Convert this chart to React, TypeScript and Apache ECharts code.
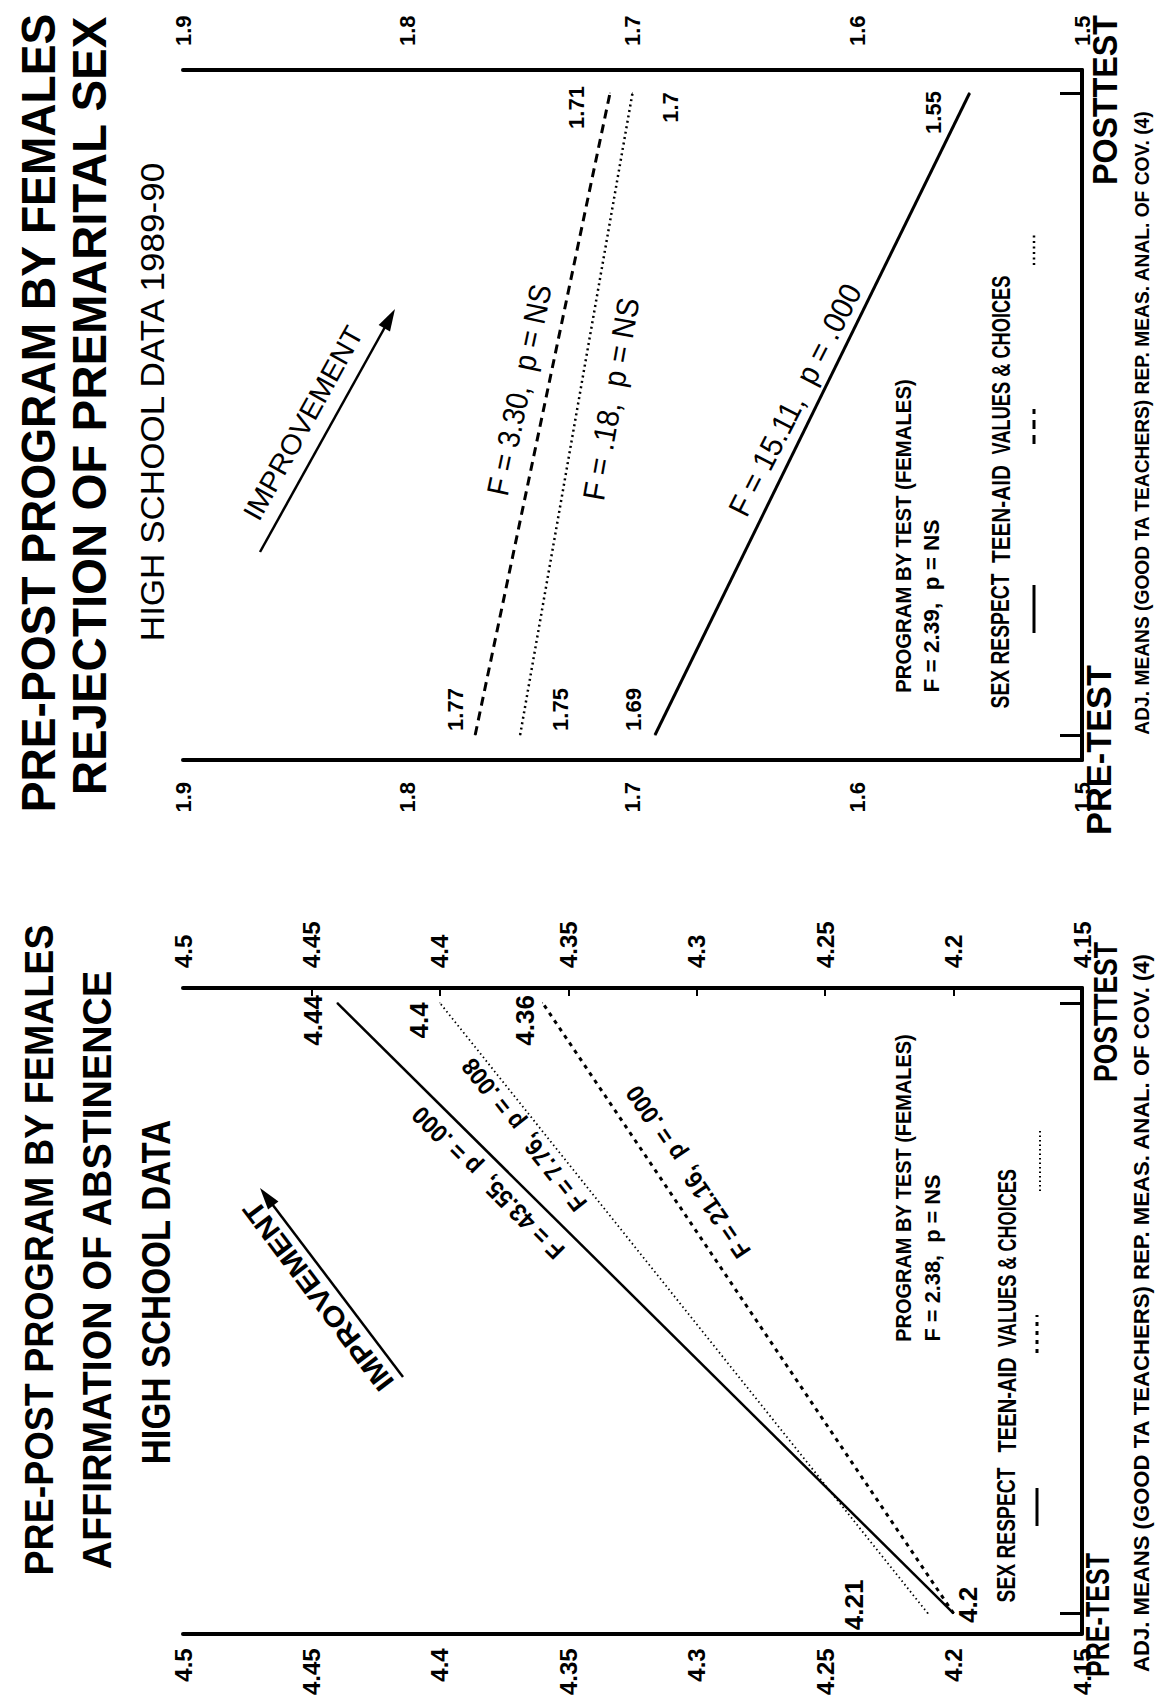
import React, { useEffect, useRef } from "react";
import * as echarts from "echarts";

// ---------------- data ----------------
const testPoints = ["PRE-TEST", "POSTTEST"];
const programs = ["SEX RESPECT", "TEEN-AID", "VALUES & CHOICES"];
const programHeading = "PROGRAM BY TEST (FEMALES)";
const footnote = "ADJ. MEANS (GOOD TA TEACHERS) REP. MEAS. ANAL. OF COV. (4)";
const improvementText = "IMPROVEMENT";

// Panel A (top of page): Rejection of premarital sex
const rejTitle = ["PRE-POST PROGRAM BY FEMALES", "REJECTION OF PREMARITAL SEX", "HIGH SCHOOL DATA 1989-90"];
const rejTicks = [1.5, 1.6, 1.7, 1.8, 1.9];
const rejSexRespect = [1.69, 1.55];
const rejTeenAid = [1.77, 1.71];
const rejValuesChoices = [1.75, 1.7];
const rejStats = ["F = 15.11,  p = .000", "F = 3.30,  p = NS", "F = .18,  p = NS"];
const rejProgramByTest = "F = 2.39,  p = NS";

// Panel B (bottom of page): Affirmation of abstinence
const affTitle = ["PRE-POST PROGRAM BY FEMALES", "AFFIRMATION OF ABSTINENCE", "HIGH SCHOOL DATA"];
const affTicks = [4.15, 4.2, 4.25, 4.3, 4.35, 4.4, 4.45, 4.5];
const affSexRespect = [4.2, 4.44];
const affTeenAid = [4.2, 4.36];
const affValuesChoices = [4.21, 4.4];
const affStats = ["F = 43.55,  p = .000", "F = 21.16,  p = .000", "F = 7.76,  p = .008"];
const affProgramByTest = "F = 2.38,  p = NS";

// ---------------- styling helpers ----------------
const INK = "#000";
const FAMILY = '"Liberation Sans", Arial, Helvetica, sans-serif';

let measureCtx: CanvasRenderingContext2D | null = null;
function measure(text: string, weight: string, size: number): number {
  if (!measureCtx) measureCtx = document.createElement("canvas").getContext("2d");
  if (!measureCtx) return text.length * size * 0.6;
  measureCtx.font = `${weight} ${size}px ${FAMILY}`;
  return measureCtx.measureText(text).width;
}

// rotated text, centred on (cx, cy); angle in degrees (anticlockwise); len = target length along text
function rText(text: string, cx: number, cy: number, size: number, angle: number, len?: number, weight = "bold") {
  const w = measure(text, weight, size);
  const sx = len ? len / w : 1;
  return {
    type: "text",
    x: cx,
    y: cy,
    rotation: (angle * Math.PI) / 180,
    scaleX: sx,
    silent: true,
    z: 10,
    style: {
      text,
      fill: INK,
      fontSize: size,
      fontWeight: weight,
      fontFamily: FAMILY,
      align: "center",
      verticalAlign: "middle",
      textAlign: "center",
      textVerticalAlign: "middle",
    },
  };
}

function seg(x1: number, y1: number, x2: number, y2: number, width: number, dash?: number[]) {
  return {
    type: "line",
    silent: true,
    z: 10,
    shape: { x1, y1, x2, y2 },
    style: { stroke: INK, lineWidth: width, lineDash: dash || null, lineCap: "butt" },
  };
}

function arrow(x1: number, y1: number, x2: number, y2: number) {
  const dx = x2 - x1;
  const dy = y2 - y1;
  const L = Math.hypot(dx, dy);
  const ux = dx / L;
  const uy = dy / L;
  const head = 22;
  const half = 6.5;
  const bx = x2 - ux * head;
  const by = y2 - uy * head;
  return [
    seg(x1, y1, bx + ux * 2, by + uy * 2, 2.5),
    {
      type: "polygon",
      silent: true,
      z: 10,
      shape: { points: [[x2, y2], [bx - uy * half, by + ux * half], [bx + uy * half, by - ux * half]] },
      style: { fill: INK },
    },
  ];
}

const fmt = (v: number) => String(Math.round(v * 100) / 100);

// line styles for the three programs, per panel
const rejStyles = [
  { width: 3, type: "solid" },
  { width: 3, type: [9, 6] },
  { width: 2.5, type: [2, 3.5] },
];
const affStyles = [
  { width: 2.5, type: "solid" },
  { width: 3, type: [4, 5] },
  { width: 1.8, type: [1.5, 3] },
];

function lineSeries(
  name: string,
  values: number[],
  panel: number,
  style: any,
  labelPos: (number[] | null)[],
  fontSize: number
) {
  return {
    name,
    type: "line",
    xAxisIndex: panel * 2,
    yAxisIndex: panel,
    data: values.map((v, i) => ({
      value: [v, i],
      label: labelPos[i] ? { show: true, position: labelPos[i] } : { show: false },
    })),
    symbol: "circle",
    symbolSize: 1,
    showSymbol: true,
    silent: true,
    z: 3,
    itemStyle: { color: INK },
    lineStyle: { color: INK, width: style.width, type: style.type, cap: "butt" },
    emphasis: { disabled: true },
    label: {
      show: true,
      rotate: 90,
      align: "center",
      verticalAlign: "middle",
      fontSize,
      fontWeight: "bold",
      fontFamily: FAMILY,
      color: INK,
      formatter: (p: any) => fmt(p.value[0]),
    },
  };
}

function valueAxis(panel: number, position: string, ticks: number[], margin: number, fontSize: number, tickInside: boolean) {
  return {
    type: "value",
    gridIndex: panel,
    position,
    min: ticks[0],
    max: ticks[ticks.length - 1],
    inverse: true,
    axisLine: { show: true, onZero: false, lineStyle: { color: INK, width: 4 } },
    axisTick: {
      show: tickInside,
      inside: true,
      length: 8,
      customValues: ticks.slice(1, -1),
      lineStyle: { color: INK, width: 2 },
    },
    splitLine: { show: false },
    axisLabel: {
      customValues: ticks,
      // ECharts negates the rotation of labels on a top axis
      rotate: position === "top" ? -90 : 90,
      margin,
      fontSize,
      fontWeight: "bold",
      fontFamily: FAMILY,
      color: INK,
      formatter: (v: number) => fmt(v),
    },
  };
}

// pre (0) / post (1) axis range so that the two test points fall at given pixel rows
function prePostRange(top: number, bottom: number, prePx: number, postPx: number) {
  const perUnit = prePx - postPx;
  return { min: -(bottom - prePx) / perUnit, max: 1 + (postPx - top) / perUnit };
}

function testAxis(panel: number, range: { min: number; max: number }) {
  return {
    type: "value",
    gridIndex: panel,
    position: "right",
    min: range.min,
    max: range.max,
    axisLine: { show: true, onZero: false, lineStyle: { color: INK, width: 4 } },
    axisTick: { show: true, inside: true, length: 22, customValues: [0, 1], lineStyle: { color: INK, width: 3 } },
    axisLabel: { show: false },
    splitLine: { show: false },
  };
}

function buildOption() {
  // panel geometry (page pixels)
  const A = { top: 70, bottom: 760, pre: 735, post: 93 };
  const B = { top: 988, bottom: 1638, pre: 1618, post: 1003 };

  const graphics: any[] = [];

  // ---- Panel A texts ----
  graphics.push(rText(rejTitle[0], 38, 413, 48, 90, 800));
  graphics.push(rText(rejTitle[1], 89, 406, 48, 90, 780));
  graphics.push(rText(rejTitle[2], 152, 402, 34, 90, 482, "normal"));
  graphics.push(rText(testPoints[0], 1098, 750, 36, 90, 170));
  graphics.push(rText(testPoints[1], 1104, 100, 36, 90, 170));
  graphics.push(rText(footnote, 1142, 423, 21, 90, 625));
  // statistics along the lines
  graphics.push(rText(rejStats[1], 519, 390, 31, 78, 215, "normal"));
  graphics.push(rText(rejStats[2], 611, 399, 31, 80, 205, "normal"));
  graphics.push(rText(rejStats[0], 795, 400, 31, 63, 256, "normal"));
  // improvement arrow
  graphics.push(rText(improvementText, 303, 423, 28, 61, 217, "normal"));
  graphics.push(...arrow(260, 552, 395, 309));
  // legend block
  graphics.push(rText(programHeading, 903, 536, 22, 90, 314));
  graphics.push(rText(rejProgramByTest, 932, 606, 22, 90, 173));
  graphics.push(rText(programs[0], 1001, 641, 25, 90, 135));
  graphics.push(rText(programs[1], 1001, 514, 25, 90, 98));
  graphics.push(rText(programs[2], 1001, 365, 25, 90, 179));
  graphics.push(seg(1034, 633, 1034, 585, 3));
  graphics.push(seg(1034, 444, 1034, 409, 3, rejStyles[1].type as number[]));
  graphics.push(seg(1034, 265, 1034, 233, 2.5, rejStyles[2].type as number[]));

  // ---- Panel B texts ----
  graphics.push(rText(affTitle[0], 38, 1250, 41, 90, 652));
  graphics.push(rText(affTitle[1], 97, 1270, 41, 90, 600));
  graphics.push(rText(affTitle[2], 156, 1292, 40, 90, 345));
  graphics.push(rText(testPoints[0], 1097, 1615, 33, 90, 124));
  graphics.push(rText(testPoints[1], 1105, 1012, 33, 90, 140));
  graphics.push(rText(footnote, 1142, 1313, 22, 90, 720));
  graphics.push(rText(affStats[0], 488, 1183, 25, 135, 204));
  graphics.push(rText(affStats[1], 688, 1172, 25, 124, 202));
  graphics.push(rText(affStats[2], 524, 1135, 25, 128, 186));
  graphics.push(rText(improvementText, 318, 1296, 28, 127, 230, "bold"));
  graphics.push(...arrow(403, 1377, 260, 1188));
  graphics.push(rText(programHeading, 903, 1188, 22, 90, 308));
  graphics.push(rText(affProgramByTest, 932, 1258, 22, 90, 167));
  graphics.push(rText(programs[0], 1007, 1535, 25, 90, 135));
  graphics.push(rText(programs[1], 1007, 1405, 25, 90, 95));
  graphics.push(rText(programs[2], 1007, 1258, 25, 90, 178));
  graphics.push(seg(1037, 1526, 1037, 1488, 3));
  graphics.push(seg(1037, 1353, 1037, 1315, 3, affStyles[1].type as number[]));
  graphics.push(seg(1040, 1191, 1040, 1131, 2, affStyles[2].type as number[]));

  return {
    animation: false,
    backgroundColor: "#fff",
    grid: [
      { left: 183, right: 86, top: A.top, bottom: 1698 - A.bottom },
      { left: 183, right: 86, top: B.top, bottom: 1698 - B.bottom },
    ],
    xAxis: [
      valueAxis(0, "bottom", rejTicks, 22, 22, false),
      valueAxis(0, "top", rejTicks, 24, 22, false),
      valueAxis(1, "bottom", affTicks, 15, 24, false),
      valueAxis(1, "top", affTicks, 20, 24, true),
    ],
    yAxis: [
      testAxis(0, prePostRange(A.top, A.bottom, A.pre, A.post)),
      testAxis(1, prePostRange(B.top, B.bottom, B.pre, B.post)),
    ],
    series: [
      lineSeries(programs[0], rejSexRespect, 0, rejStyles[0], [[-21, -25], [-36, 20]], 22),
      lineSeries(programs[1], rejTeenAid, 0, rejStyles[1], [[-19, -25], [-33, 15]], 22),
      lineSeries(programs[2], rejValuesChoices, 0, rejStyles[2], [[41, -25], [38, 15]], 22),
      lineSeries(programs[0], affSexRespect, 1, affStyles[0], [[15, -8], [-24, 18]], 26),
      lineSeries(programs[1], affTeenAid, 1, affStyles[1], [null, [-17, 18]], 26),
      lineSeries(programs[2], affValuesChoices, 1, affStyles[2], [[-73, -8], [-20, 18]], 26),
    ],
    graphic: { elements: graphics },
  };
}

export default function App() {
  const ref = useRef<HTMLDivElement>(null);
  useEffect(() => {
    if (!ref.current) return;
    const chart = echarts.init(ref.current, null, { renderer: "svg", width: 1168, height: 1698 });
    chart.setOption(buildOption() as any);
    return () => chart.dispose();
  }, []);
  return (
    <div
      ref={ref}
      style={{ position: "absolute", left: 0, top: 0, width: 1168, height: 1698, background: "#fff" }}
    />
  );
}
